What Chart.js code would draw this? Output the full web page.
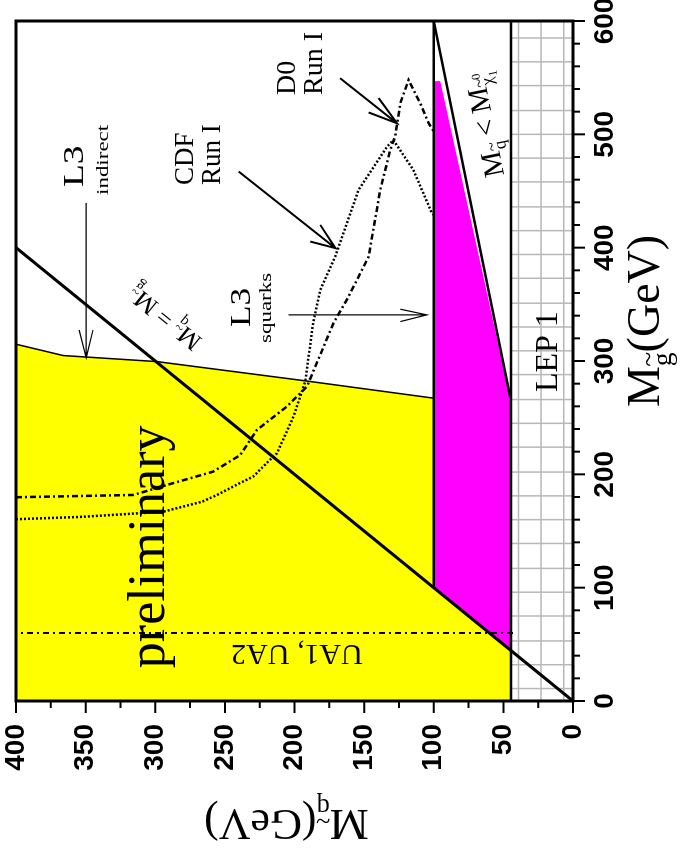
<!DOCTYPE html>
<html><head><meta charset="utf-8">
<script src="https://cdn.jsdelivr.net/npm/chart.js@4"></script>
<style>
html,body{margin:0;padding:0;background:#fff;overflow:hidden;width:681px;height:859px;}
#wrap{position:absolute;left:-89px;top:89px;width:859px;height:681px;transform:rotate(-90deg);transform-origin:50% 50%;}
canvas{display:block;}
</style></head><body>
<div id="wrap"><canvas id="c" width="859" height="681"></canvas></div>
<script>
// ---------- DATA (x = gluino mass, y = squark mass, GeV) ----------
const gluinoRange = [0, 600];
const squarkRange = [0, 400];

const yellowGluino = [0, 44.5, 100, 267.2, 282.7, 299.5, 304.8, 314.8];
const yellowSquark = [44.5, 44.5, 100, 100, 193.5, 299, 366, 400];

const magentaUpperGluino = [44.5, 100, 547];
const magentaUpperSquark = [44.5, 100, 100];
const magentaLowerGluino = [44.5, 264, 547];
const magentaLowerSquark = [44.5, 44.5, 95.3];

const diagonalGluino = [0, 400];
const diagonalSquark = [0, 400];
const squark100Gluino = [100, 600];
const squark100Squark = [100, 100];
const lepLineGluino = [0, 600];
const lepLineSquark = [44.5, 44.5];
const chiLineGluino = [268, 600];
const chiLineSquark = [45, 100];
const uaGluino = [60, 60];
const uaSquark = [43, 400];

const cdfGluino = [160.4, 162.4, 167, 176, 181.8, 192.4, 198, 215.6, 218.6, 251, 281.8, 333.6, 362.7, 392, 451, 489, 495, 468.7, 430.4, 429];
const cdfSquark = [400, 354, 294.3, 266, 255.7, 239, 229.7, 215.3, 212.6, 200.7, 192.3, 186.6, 181.5, 170.8, 154, 133.6, 129, 114.7, 101.3, 100];

const d0Gluino = [179.8, 181.8, 190.6, 202.4, 217, 239.2, 259.8, 277.4, 333.4, 356.8, 392, 451, 486, 498, 527.5, 548, 527.5, 510, 502.5];
const d0Squark = [400, 315.7, 291.7, 258.4, 239, 227, 205.5, 191.1, 172, 161.2, 146.8, 138.4, 131.3, 127.7, 124, 118.1, 109.7, 103.7, 100.1];

const lepGridSquark = [6.7, 22.9, 39.1];
const lepGridGluino = [11, 32, 53, 75, 96, 117, 139, 160, 181, 202, 224, 245, 266, 288, 309, 330, 351, 373, 394, 415, 436, 458, 479, 500, 521, 543, 564, 585];

// arrows: [shaft start, tip, barb1, barb2] as gluino / squark
const arrowL3IndirectGluino = [439.5, 302.7, 327.4, 327.4];
const arrowL3IndirectSquark = [349.6, 349.6, 354.7, 344.7];
const arrowL3SquarksGluino = [340.7, 340.7, 345.7, 334.8];
const arrowL3SquarksSquark = [204.3, 104.9, 124, 124];
const arrowCdfGluino = [467.2, 399.6, 420.1, 405.4];
const arrowCdfSquark = [240.2, 170.6, 181.5, 188.7];
const arrowD0Gluino = [549.5, 509.8, 532, 519.3];
const arrowD0Squark = [167.2, 126.4, 139.6, 146.8];

// ---------- helpers ----------
const pts = (xs, ys) => xs.map((v, i) => ({x: v, y: ys[i]}));
const GAP = {x: NaN, y: NaN};
function arrowPts(gs, qs) {
  return [{x: gs[0], y: qs[0]}, {x: gs[1], y: qs[1]}, GAP,
          {x: gs[2], y: qs[2]}, {x: gs[1], y: qs[1]}, {x: gs[3], y: qs[3]}];
}
function gridPts() {
  const out = [];
  lepGridSquark.forEach(q => { out.push({x: gluinoRange[0], y: q}, {x: gluinoRange[1], y: q}, GAP); });
  lepGridGluino.forEach(g => { out.push({x: g, y: squarkRange[0]}, {x: g, y: lepLineSquark[0]}, GAP); });
  return out;
}
const line = (data, color, width, dash, order, extra) => Object.assign({
  data, showLine: true, borderColor: color, borderWidth: width, borderDash: dash || [],
  pointRadius: 0, fill: false, order, spanGaps: false, tension: 0
}, extra || {});

const SERIF = '"Liberation Serif","Times New Roman",serif';
const SANS = '"Liberation Sans",Arial,sans-serif';

function drawRich(ctx, parts, x, y, size, opt) {
  opt = opt || {};
  ctx.save();
  ctx.translate(x, y);
  ctx.rotate(opt.angle || 0);
  ctx.scale(opt.sx || 1, 1);
  ctx.fillStyle = '#000';
  ctx.textBaseline = 'alphabetic';
  ctx.textAlign = 'left';
  let w = 0;
  parts.forEach(p => { ctx.font = (size * (p.s || 1)) + 'px ' + SERIF; if (!p.noAdv) w += ctx.measureText(p.t).width; });
  let cx = opt.align === 'center' ? -w / 2 : 0;
  const vy = opt.vcenter ? size * 0.3 : 0;
  parts.forEach(p => {
    const fs = size * (p.s || 1);
    ctx.font = fs + 'px ' + SERIF;
    const pw = ctx.measureText(p.t).width;
    const dy = (p.dy || 0) * size + vy;
    ctx.fillText(p.t, cx, dy);
    if (p.tilde) {
      const tw = ctx.measureText('~').width;
      ctx.fillText('~', cx + (pw - tw) / 2, dy - fs * 0.48);
    }
    if (!p.noAdv) cx += pw;
  });
  ctx.restore();
}

// ---------- text annotations (anchored in data coordinates) ----------
const annotations = [
  {parts: [{t: 'preliminary'}], g: 29, q: 294, size: 52},
  {parts: [{t: 'L3'}], g: 453.5, q: 352, size: 30, sx: 1.25},
  {parts: [{t: 'indirect'}], g: 446.5, q: 334, size: 17, sx: 1.35},
  {parts: [{t: 'CDF'}], g: 455.3, q: 273, size: 27},
  {parts: [{t: 'Run I'}], g: 455.3, q: 253.5, size: 27},
  {parts: [{t: 'D0'}], g: 534.7, q: 199.6, size: 28},
  {parts: [{t: 'Run I'}], g: 534.7, q: 180.2, size: 28},
  {parts: [{t: 'L3'}], g: 330, q: 232, size: 30, sx: 1.18},
  {parts: [{t: 'squarks'}], g: 315.9, q: 217, size: 17, sx: 1.35},
  {parts: [{t: 'LEP 1'}], g: 272.6, q: 11.5, size: 32},
  {parts: [{t: 'UA1, UA2'}], g: 49.4, q: 151, size: 30, angle: -Math.PI / 2},
  {parts: [{t: 'M'}, {t: 'q', s: 0.6, dy: 0.25, tilde: true}, {t: ' = '}, {t: 'M'}, {t: 'g', s: 0.6, dy: 0.25, tilde: true}],
   g: 338, q: 293, size: 25, along: 'diag', align: 'center', vcenter: true},
  {parts: [{t: 'M'}, {t: 'q', s: 0.6, dy: 0.25, tilde: true}, {t: ' < '}, {t: 'M'}, {t: 'χ', s: 0.6, dy: 0.25, tilde: true},
           {t: '1', s: 0.42, dy: 0.45, noAdv: true}, {t: '0', s: 0.42, dy: -0.15}],
   g: 508, q: 63, size: 29, along: 'chi', align: 'center', vcenter: true}
];

const decoPlugin = {
  id: 'deco',
  afterDatasetsDraw(chart) {
    const {ctx, chartArea: a, scales: {x, y}} = chart;
    const angleOf = (gs, qs) => Math.atan2(y.getPixelForValue(qs[1]) - y.getPixelForValue(qs[0]),
                                           x.getPixelForValue(gs[1]) - x.getPixelForValue(gs[0]));
    annotations.forEach(an => {
      let ang = an.angle || 0;
      if (an.along === 'diag') ang = angleOf(diagonalGluino, diagonalSquark);
      if (an.along === 'chi') ang = angleOf(chiLineGluino, chiLineSquark);
      drawRich(ctx, an.parts, x.getPixelForValue(an.g), y.getPixelForValue(an.q), an.size,
               {angle: ang, sx: an.sx, align: an.align, vcenter: an.vcenter});
    });
    // axis titles
    drawRich(ctx, [{t: 'M'}, {t: 'g', s: 0.6, dy: 0.25, tilde: true}, {t: '(GeV)'}],
             (a.left + a.right) / 2 + 40, a.bottom + 86, 46, {align: 'center'});
    drawRich(ctx, [{t: 'M'}, {t: 'q', s: 0.6, dy: 0.25, tilde: true}, {t: '(GeV)'}],
             a.left - 109, (a.top + a.bottom) / 2 - 8, 44, {align: 'center', angle: -Math.PI / 2});
    // tick marks (outside) and frame
    ctx.save();
    ctx.strokeStyle = '#000';
    ctx.lineWidth = 2;
    ctx.beginPath();
    for (let g = gluinoRange[0]; g <= gluinoRange[1]; g += 20) {
      const px = x.getPixelForValue(g);
      ctx.moveTo(px, a.bottom); ctx.lineTo(px, a.bottom + (g % 100 === 0 ? 12 : 7));
    }
    for (let q = squarkRange[0]; q <= squarkRange[1]; q += 25) {
      const py = y.getPixelForValue(q);
      ctx.moveTo(a.left, py); ctx.lineTo(a.left - (q % 50 === 0 ? 12 : 7), py);
    }
    ctx.stroke();
    ctx.lineWidth = 3;
    ctx.strokeRect(a.left, a.top, a.right - a.left, a.bottom - a.top);
    ctx.restore();
  }
};

new Chart(document.getElementById('c'), {
  type: 'scatter',
  data: {
    datasets: [
      line(gridPts(), '#b8b8b8', 1.5, [], 20),
      line(pts(yellowGluino, yellowSquark), '#000', 1.5, [], 19, {fill: 'end', backgroundColor: '#ffff00'}),
      line(pts(magentaUpperGluino, magentaUpperSquark), 'rgba(0,0,0,0)', 0, [], 18, {fill: 3, backgroundColor: '#ff00ff'}),
      line(pts(magentaLowerGluino, magentaLowerSquark), 'rgba(0,0,0,0)', 0, [], 18),
      line(pts(diagonalGluino, diagonalSquark), '#000', 3, [], 5),
      line(pts(squark100Gluino, squark100Squark), '#000', 2.5, [], 5),
      line(pts(lepLineGluino, lepLineSquark), '#000', 2.5, [], 5),
      line(pts(chiLineGluino, chiLineSquark), '#000', 2.5, [], 5),
      line(pts(uaGluino, uaSquark), '#000', 2, [6, 4, 2, 4], 4),
      line(pts(cdfGluino, cdfSquark), '#000', 2.5, [2, 2], 3),
      line(pts(d0Gluino, d0Squark), '#000', 2.5, [6, 3, 2, 3], 3),
      line(arrowPts(arrowL3IndirectGluino, arrowL3IndirectSquark), '#000', 1.2, [], 2),
      line(arrowPts(arrowL3SquarksGluino, arrowL3SquarksSquark), '#000', 1.2, [], 2),
      line(arrowPts(arrowCdfGluino, arrowCdfSquark), '#000', 2, [], 2),
      line(arrowPts(arrowD0Gluino, arrowD0Squark), '#000', 2, [], 2)
    ]
  },
  options: {
    responsive: false,
    animation: false,
    devicePixelRatio: 1,
    layout: {padding: {left: 0, right: 21, top: 16, bottom: 0}},
    plugins: {legend: {display: false}, tooltip: {enabled: false}},
    scales: {
      x: {
        type: 'linear', position: 'bottom', min: gluinoRange[0], max: gluinoRange[1],
        grid: {display: false, drawTicks: false},
        border: {display: false},
        ticks: {stepSize: 100, autoSkip: false, maxRotation: 0, padding: 15, color: '#000',
                font: {family: SANS, size: 28, weight: 'bold'}},
        afterFit: s => { s.height = 108; s.paddingLeft = 0; s.paddingRight = 0; s.paddingTop = 0; s.paddingBottom = 0; }
      },
      y: {
        type: 'linear', position: 'left', min: squarkRange[0], max: squarkRange[1],
        grid: {display: false, drawTicks: false},
        border: {display: false},
        ticks: {stepSize: 50, autoSkip: false, padding: 23, color: '#000',
                font: {family: SANS, size: 28, weight: 'bold'}},
        afterFit: s => { s.width = 158; s.paddingLeft = 0; s.paddingRight = 0; s.paddingTop = 0; s.paddingBottom = 0; }
      }
    }
  },
  plugins: [decoPlugin]
});
</script></body></html>
